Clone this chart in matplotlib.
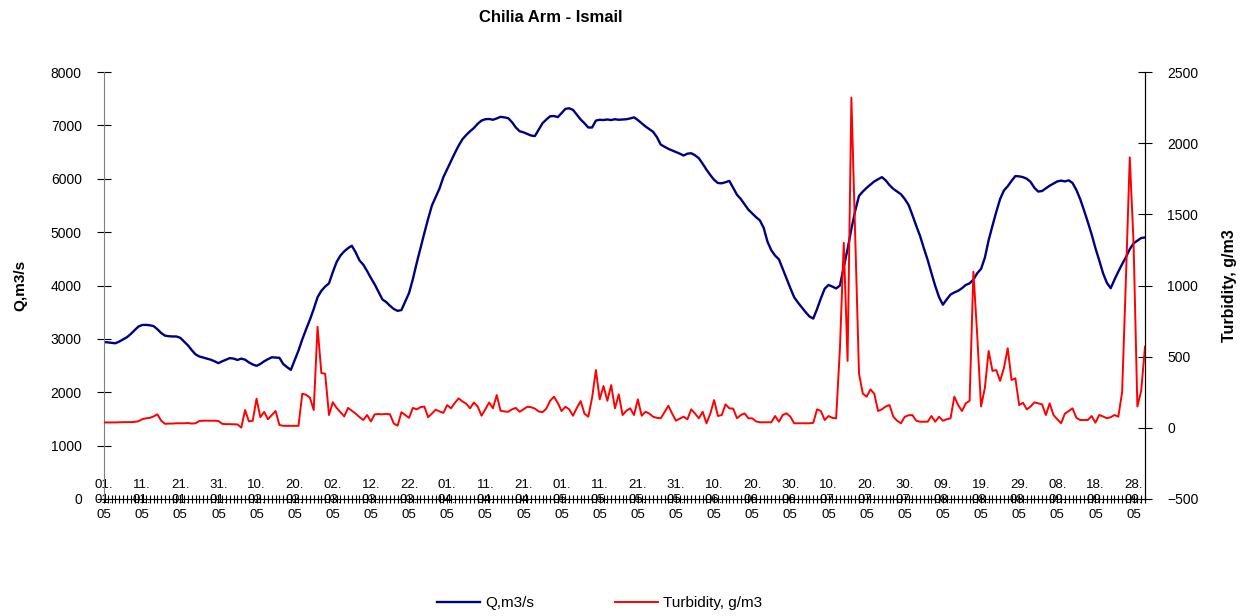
import matplotlib
matplotlib.use("Agg")
import matplotlib.pyplot as plt
import numpy as np
import pandas as pd

plt.rcParams['font.family'] = ['Liberation Sans', 'DejaVu Sans']

# daily values, 01.01.2005 - 01.10.2005
q = [2940, 2935, 2925, 2918, 2950, 2990, 3030, 3090, 3160, 3230,
     3260, 3262, 3255, 3240, 3180, 3110, 3060, 3050, 3045, 3045,
     3020, 2950, 2880, 2790, 2710, 2670, 2650, 2630, 2610, 2580,
     2545, 2580, 2610, 2640, 2630, 2605, 2630, 2610, 2560, 2520,
     2495, 2530, 2580, 2620, 2655, 2650, 2645, 2530, 2470, 2420,
     2600, 2780, 2990, 3180, 3360, 3560, 3780, 3900, 3980, 4040,
     4250, 4440, 4560, 4640, 4700, 4745, 4620, 4470, 4390, 4270,
     4140, 4020, 3880, 3740, 3690, 3620, 3560, 3525, 3540, 3700,
     3860, 4120, 4420, 4700, 4980, 5250, 5500, 5660, 5820, 6030,
     6180, 6330, 6480, 6620, 6740, 6820, 6890, 6950, 7030, 7090,
     7115, 7120, 7105, 7130, 7160, 7150, 7135, 7060, 6960, 6890,
     6870, 6840, 6810, 6800, 6920, 7040, 7110, 7170, 7175, 7155,
     7230, 7310, 7320, 7290, 7200, 7110, 7040, 6960, 6960, 7090,
     7105, 7100, 7110, 7100, 7115, 7105, 7110, 7115, 7130, 7150,
     7100, 7040, 6980, 6930, 6880, 6780, 6640, 6600, 6560, 6530,
     6500, 6470, 6435, 6470, 6478, 6440, 6384, 6280, 6170, 6070,
     5980, 5920, 5915, 5935, 5960, 5830, 5700, 5620, 5520, 5420,
     5350, 5280, 5220, 5080, 4820, 4660, 4560, 4490, 4310, 4130,
     3950, 3780, 3680, 3590, 3500, 3420, 3380, 3560, 3760, 3940,
     4010, 3980, 3945, 4000, 4350, 4680, 5060, 5400, 5680, 5760,
     5830, 5890, 5950, 5990, 6030, 5970, 5880, 5810, 5760, 5710,
     5620, 5510, 5320, 5120, 4930, 4700, 4480, 4230, 3990, 3780,
     3640, 3740, 3830, 3870, 3900, 3950, 4010, 4040, 4110, 4230,
     4310, 4520, 4850, 5120, 5380, 5620, 5780, 5860, 5960, 6050,
     6045, 6030, 6000, 5940, 5830, 5760, 5770, 5820, 5870, 5910,
     5950, 5965, 5950, 5970, 5920, 5790, 5620, 5410, 5190, 4960,
     4700, 4470, 4230, 4050, 3950, 4110, 4260, 4400, 4530, 4680,
     4790, 4840, 4890, 4900]

turb = [38, 38, 38, 38, 39, 40, 40, 40, 42, 46,
        60, 67, 70, 80, 95, 50, 28, 30, 30, 32,
        32, 32, 34, 30, 32, 48, 50, 50, 50, 50,
        48, 28, 26, 26, 25, 24, 2, 125, 45, 50,
        205, 75, 112, 60, 90, 118, 20, 14, 14, 14,
        14, 14, 240, 232, 212, 125, 710, 385, 380, 90,
        180, 140, 110, 80, 140, 120, 100, 75, 55, 90,
        45, 95, 97, 95, 98, 95, 30, 15, 110, 90,
        70, 140, 130, 145, 150, 75, 100, 128, 115, 105,
        160, 137, 175, 207, 185, 170, 137, 178, 150, 85,
        130, 178, 137, 230, 120, 115, 113, 130, 140, 113,
        130, 148, 145, 135, 115, 110, 135, 190, 219, 175,
        118, 148, 130, 85, 140, 188, 100, 78, 211, 406,
        200, 294, 190, 300, 137, 235, 90, 120, 137, 90,
        200, 85, 113, 100, 78, 70, 67, 110, 155, 100,
        50, 65, 78, 60, 130, 100, 67, 113, 32, 100,
        195, 83, 90, 165, 137, 135, 67, 90, 102, 67,
        67, 45, 39, 39, 39, 39, 83, 43, 90, 102,
        78, 32, 32, 32, 32, 32, 35, 130, 118, 55,
        83, 70, 67, 560, 1300, 470, 2320, 1350, 380, 240,
        219, 270, 240, 118, 130, 150, 160, 78, 50, 32,
        78, 88, 90, 50, 43, 43, 43, 83, 43, 78,
        50, 60, 67, 219, 160, 118, 172, 190, 1097, 650,
        150, 280, 540, 400, 406, 330, 420, 559, 336, 348,
        160, 176, 130, 150, 179, 172, 165, 90, 172, 90,
        60, 32, 100, 118, 137, 70, 55, 55, 55, 83,
        36, 90, 80, 67, 75, 90, 78, 250, 1050, 1900,
        1300, 150, 260, 570]

dates = pd.date_range('2005-01-01', periods=len(q), freq='D')
days = np.arange(len(q))
major = days[::10]
labels = [d.strftime('%d.\n%m.\n%y') for d in dates[::10]]

fig = plt.figure(figsize=(12.51, 6.16), dpi=100)
ax = fig.add_axes([104/1251, 117/616, 1041/1251, 427/616])
ax2 = ax.twinx()

lq, = ax.plot(days, q, color='#000080', lw=1.7, label='Q,m3/s')
lt, = ax2.plot(days, turb, color='#ff0000', lw=1.4, label='Turbidity, g/m3')

ax.set_xlim(0, len(q) - 1)
ax.set_ylim(0, 8000)
ax2.set_ylim(-500, 2500)
ax.set_yticks(range(0, 8001, 1000))
ax2.set_yticks(range(-500, 2501, 500))

ax.set_xticks(major)
ax.set_xticks(days, minor=True)
ax.set_xticklabels(labels, fontsize=9.5, linespacing=1.35)
ax.tick_params(axis='x', which='both', direction='inout', length=6, width=0.8, pad=-2.5)
for t in ax.get_xticklabels():
    t.set_va('center')

ax.tick_params(axis='y', direction='inout', length=10, width=0.8, pad=11, labelsize=10)
ax2.tick_params(axis='y', direction='inout', length=10, width=0.8, pad=11, labelsize=10)

for a in (ax, ax2):
    a.spines['top'].set_visible(False)
ax.spines['left'].set_color('#808080')
ax2.spines['left'].set_visible(False)
ax2.spines['bottom'].set_visible(False)

ax.set_ylabel('Q,m3/s', fontsize=11, fontweight='bold', labelpad=17)
ax2.set_ylabel('Turbidity, g/m3', fontsize=11.5, fontweight='bold', labelpad=17)

fig.text(551/1251, 1 - 17/616, 'Chilia Arm - Ismail', ha='center', va='center',
         fontsize=12, fontweight='bold')

fig.legend([lq, lt], ['Q,m3/s', 'Turbidity, g/m3'], loc='center',
           bbox_to_anchor=(600/1251, 1 - 603/616), ncol=2, frameon=False,
           fontsize=11, handlelength=2.8, handletextpad=0.35, columnspacing=5.3)

fig.savefig('out.png', dpi=100)
